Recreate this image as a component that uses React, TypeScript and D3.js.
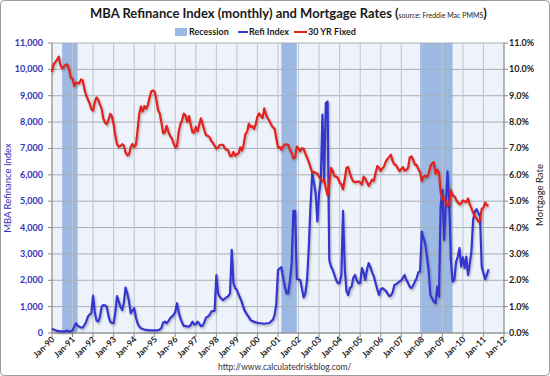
import React from "react";
import * as d3 from "d3";

// ---- Data (monthly, Jan 1990 – Apr 2011) ----
const startYear = 1990;
const refiIndex: number[] = [
  160,130,100,80,70,60,60,50,70,90,60,60,
  100,250,370,280,240,210,200,300,430,620,700,750,
  1420,800,480,430,600,1000,1060,1050,1000,650,430,380,
  380,800,1400,1200,1000,870,1150,1720,1500,1200,750,850,
  940,600,370,250,180,150,130,120,110,100,100,100,
  100,100,110,130,200,400,430,370,450,560,620,680,
  800,1130,800,560,400,270,260,250,240,300,430,330,
  330,430,360,260,280,400,580,620,680,810,830,850,
  2200,1500,1380,1300,1250,1300,1350,1400,1500,3150,1890,1700,
  1630,1450,1320,1150,940,800,700,600,490,450,430,400,
  390,370,370,360,350,360,370,380,450,500,680,1100,
  2390,2450,2500,2100,1760,1500,1500,2000,2650,4630,4630,2050,
  2040,2000,1700,1350,1500,2010,3200,4800,6060,5700,5300,4230,
  5300,5810,8280,5800,8720,8780,2770,2520,2390,2200,2000,1890,
  1890,2200,4630,2500,1600,1440,1700,1760,2100,2200,2000,1890,
  1900,2460,2300,2010,2400,2650,2500,2300,2140,1900,1650,1440,
  1650,1700,1650,1600,1500,1400,1420,1550,1820,1850,1900,1950,
  2000,2100,2200,2010,1900,1750,1700,1800,1950,2080,2300,2330,
  3850,3600,3400,2900,2390,1440,1320,1190,1130,1760,1380,4800,
  5430,3530,4800,6130,5050,2770,1950,2010,2700,2900,3220,2520,
  2870,2460,2900,2200,2600,3090,4290,4600,4700,4550,4400,2520,
  2270,2040,2200,2420,
];
const rate30: number[] = [
  9.90,10.20,10.27,10.37,10.48,10.16,10.04,10.10,10.18,10.18,10.01,9.67,
  9.64,9.37,9.50,9.49,9.47,9.62,9.58,9.24,9.01,8.86,8.71,8.50,
  8.43,8.76,8.94,8.85,8.67,8.51,8.13,7.98,7.92,8.09,8.31,8.22,
  7.91,7.47,7.17,7.06,7.09,7.16,7.11,6.85,6.74,6.77,7.06,7.17,
  7.06,7.15,7.68,8.32,8.60,8.40,8.61,8.51,8.64,8.93,9.17,9.20,
  9.15,8.83,8.46,8.32,7.96,7.57,7.61,7.86,7.64,7.48,7.38,7.20,
  7.03,7.08,7.62,7.93,8.07,8.32,8.25,8.00,8.23,7.92,7.62,7.60,
  7.82,7.65,7.90,8.14,7.94,7.69,7.50,7.48,7.43,7.29,7.21,7.10,
  6.99,7.04,7.13,7.14,7.14,7.00,6.95,6.92,6.72,6.71,6.87,6.72,
  6.79,6.81,7.04,6.92,7.15,7.55,7.63,7.94,7.82,7.85,7.74,7.91,
  8.21,8.33,8.24,8.15,8.52,8.29,8.15,8.03,7.91,7.80,7.75,7.38,
  7.03,7.05,6.95,7.08,7.15,7.16,7.13,6.95,6.82,6.62,6.66,7.07,
  7.00,6.89,7.01,6.99,6.81,6.65,6.49,6.29,6.09,6.11,6.07,6.05,
  5.92,5.84,5.75,5.81,5.48,5.23,5.63,6.26,6.15,5.95,5.93,5.88,
  5.71,5.64,5.45,5.83,6.27,6.29,6.06,5.87,5.75,5.72,5.73,5.75,
  5.71,5.63,5.93,5.86,5.72,5.58,5.70,5.82,5.77,6.07,6.33,6.27,
  6.15,6.25,6.32,6.51,6.60,6.68,6.76,6.52,6.40,6.36,6.24,6.14,
  6.22,6.29,6.16,6.18,6.26,6.66,6.70,6.57,6.38,6.38,6.21,6.10,
  5.76,5.92,5.97,5.92,6.04,6.32,6.43,6.48,6.04,6.20,6.09,5.33,
  5.06,5.13,5.00,4.81,4.86,5.42,5.22,5.19,5.06,4.95,4.88,4.93,
  5.03,4.99,4.97,5.10,4.89,4.74,4.56,4.43,4.35,4.23,4.30,4.71,
  4.76,4.95,4.84,4.84,
];
const recessionStart = ["1990-07", "2001-03", "2007-12"];
const recessionEnd = ["1991-04", "2001-12", "2009-07"];
const leftTicks = [0,1000,2000,3000,4000,5000,6000,7000,8000,9000,10000,11000];
const rightTicks = [0,1,2,3,4,5,6,7,8,9,10,11];
const xTickYears = d3.range(1990, 2013);

const W = 550, H = 376;
const M = { left: 52, right: 504, top: 43, bottom: 333 };
const FONT = "Lato, 'Open Sans', sans-serif";

const monthDate = (i: number) => new Date(startYear, i, 1);
const parseYM = (s: string) => { const [y, m] = s.split("-").map(Number); return new Date(y, m - 1, 1); };

export default function App() {
  const x = d3.scaleTime().domain([new Date(1990, 0, 1), new Date(2012, 0, 1)]).range([M.left, M.right]);
  const yL = d3.scaleLinear().domain([0, 11000]).range([M.bottom, M.top]);
  const yR = d3.scaleLinear().domain([0, 11]).range([M.bottom, M.top]);

  const refiLine = d3.line<number>().x((_, i) => x(monthDate(i))).y((d) => yL(d));
  const rateLine = d3.line<number>().x((_, i) => x(monthDate(i))).y((d) => yR(d));

  const fmtL = d3.format(",");
  const blue = "#3535d0";
  const red = "#e2211c";

  return (
    <svg width={W} height={H} style={{ position: "absolute", left: 0, top: 0, background: "#fff" }} fontFamily={FONT}>
      <defs>
        <filter id="sh" x="-5%" y="-5%" width="110%" height="110%">
          <feDropShadow dx="1" dy="1.5" stdDeviation="0.8" floodColor="#000" floodOpacity="0.3" />
        </filter>
      </defs>
      <rect x={0.5} y={0.5} width={W - 1} height={H - 1} rx={4} fill="#fff" stroke="#9a9a9a" />
      {/* title */}
      <text x={90} y={18} fontSize={13} fontWeight="bold" fill="#1a1a1a">
        MBA Refinance Index (monthly) and Mortgage Rates (
        <tspan fontSize={7} fontWeight="normal">source: Freddie Mac PMMS</tspan>
        <tspan>)</tspan>
      </text>
      {/* legend */}
      <g fontSize={9} fontWeight="bold" fill="#1a1a1a">
        <rect x={175} y={28} width={12} height={8} fill="#9cb9e4" />
        <text x={189} y={35}>Recession</text>
        <line x1={238} x2={248} y1={32} y2={32} stroke={blue} strokeWidth={2} />
        <text x={249} y={35}>Refi Index</text>
        <line x1={294} x2={307} y1={32} y2={32} stroke={red} strokeWidth={2} />
        <text x={308} y={35}>30 YR Fixed</text>
      </g>
      {/* plot background */}
      <rect x={M.left} y={M.top} width={M.right - M.left} height={M.bottom - M.top} fill="#eef3fb" />
      {/* recessions */}
      {recessionStart.map((s, i) => (
        <rect key={s} x={x(parseYM(s))} y={M.top} width={x(parseYM(recessionEnd[i])) - x(parseYM(s))}
          height={M.bottom - M.top} fill="#9cb9e4" />
      ))}
      {/* grid */}
      {leftTicks.map((t) => (
        <line key={"h" + t} x1={M.left} x2={M.right} y1={yL(t)} y2={yL(t)} stroke="#a9adb5" strokeWidth={1} />
      ))}
      {xTickYears.map((yr) => (
        <line key={"v" + yr} x1={x(new Date(yr, 0, 1))} x2={x(new Date(yr, 0, 1))} y1={M.top} y2={M.bottom}
          stroke="#bfc3cb" strokeWidth={1} />
      ))}
      {/* axes */}
      <line x1={M.left} x2={M.left} y1={M.top} y2={M.bottom} stroke="#8a8a8a" />
      <line x1={M.right} x2={M.right} y1={M.top} y2={M.bottom} stroke="#8a8a8a" />
      <line x1={M.left} x2={M.right} y1={M.bottom} y2={M.bottom} stroke="#8a8a8a" />
      {leftTicks.map((t) => (
        <g key={"lt" + t}>
          <line x1={M.left - 4} x2={M.left} y1={yL(t)} y2={yL(t)} stroke="#8a8a8a" />
          <text x={M.left - 9} y={yL(t) + 3} fontSize={9} fontWeight="bold" textAnchor="end" fill="#3333b8">{fmtL(t)}</text>
        </g>
      ))}
      {rightTicks.map((t) => (
        <g key={"rt" + t}>
          <line x1={M.right} x2={M.right + 4} y1={yR(t)} y2={yR(t)} stroke="#8a8a8a" />
          <text x={M.right + 5} y={yR(t) + 3} fontSize={9} fontWeight="bold" fill="#222">{t.toFixed(1) + "%"}</text>
        </g>
      ))}
      {xTickYears.map((yr) => {
        const px = x(new Date(yr, 0, 1));
        return (
          <g key={"xt" + yr}>
            <line x1={px} x2={px} y1={M.bottom} y2={M.bottom + 4} stroke="#8a8a8a" />
            <text transform={`translate(${px + 3},${M.bottom + 7}) rotate(-45)`} fontSize={8.5} fontWeight="bold"
              textAnchor="end" fill="#222">{"Jan-" + String(yr).slice(2)}</text>
          </g>
        );
      })}
      {/* axis titles */}
      <text transform={`translate(11,188) rotate(-90)`} fontSize={9.5} textAnchor="middle" fill="#3333b8">MBA Refinance Index</text>
      <text transform={`translate(543,195) rotate(-90)`} fontSize={9.5} textAnchor="middle" fill="#222">Mortgage Rate</text>
      {/* series */}
      <path d={refiLine(refiIndex) || ""} fill="none" stroke={blue} strokeWidth={2.2} strokeLinejoin="round" filter="url(#sh)" />
      <path d={rateLine(rate30) || ""} fill="none" stroke={red} strokeWidth={2.2} strokeLinejoin="round" filter="url(#sh)" />
      {/* source */}
      <text x={218} y={370} fontSize={8.5} fill="#333">http://www.calculatedriskblog.com/</text>
    </svg>
  );
}
